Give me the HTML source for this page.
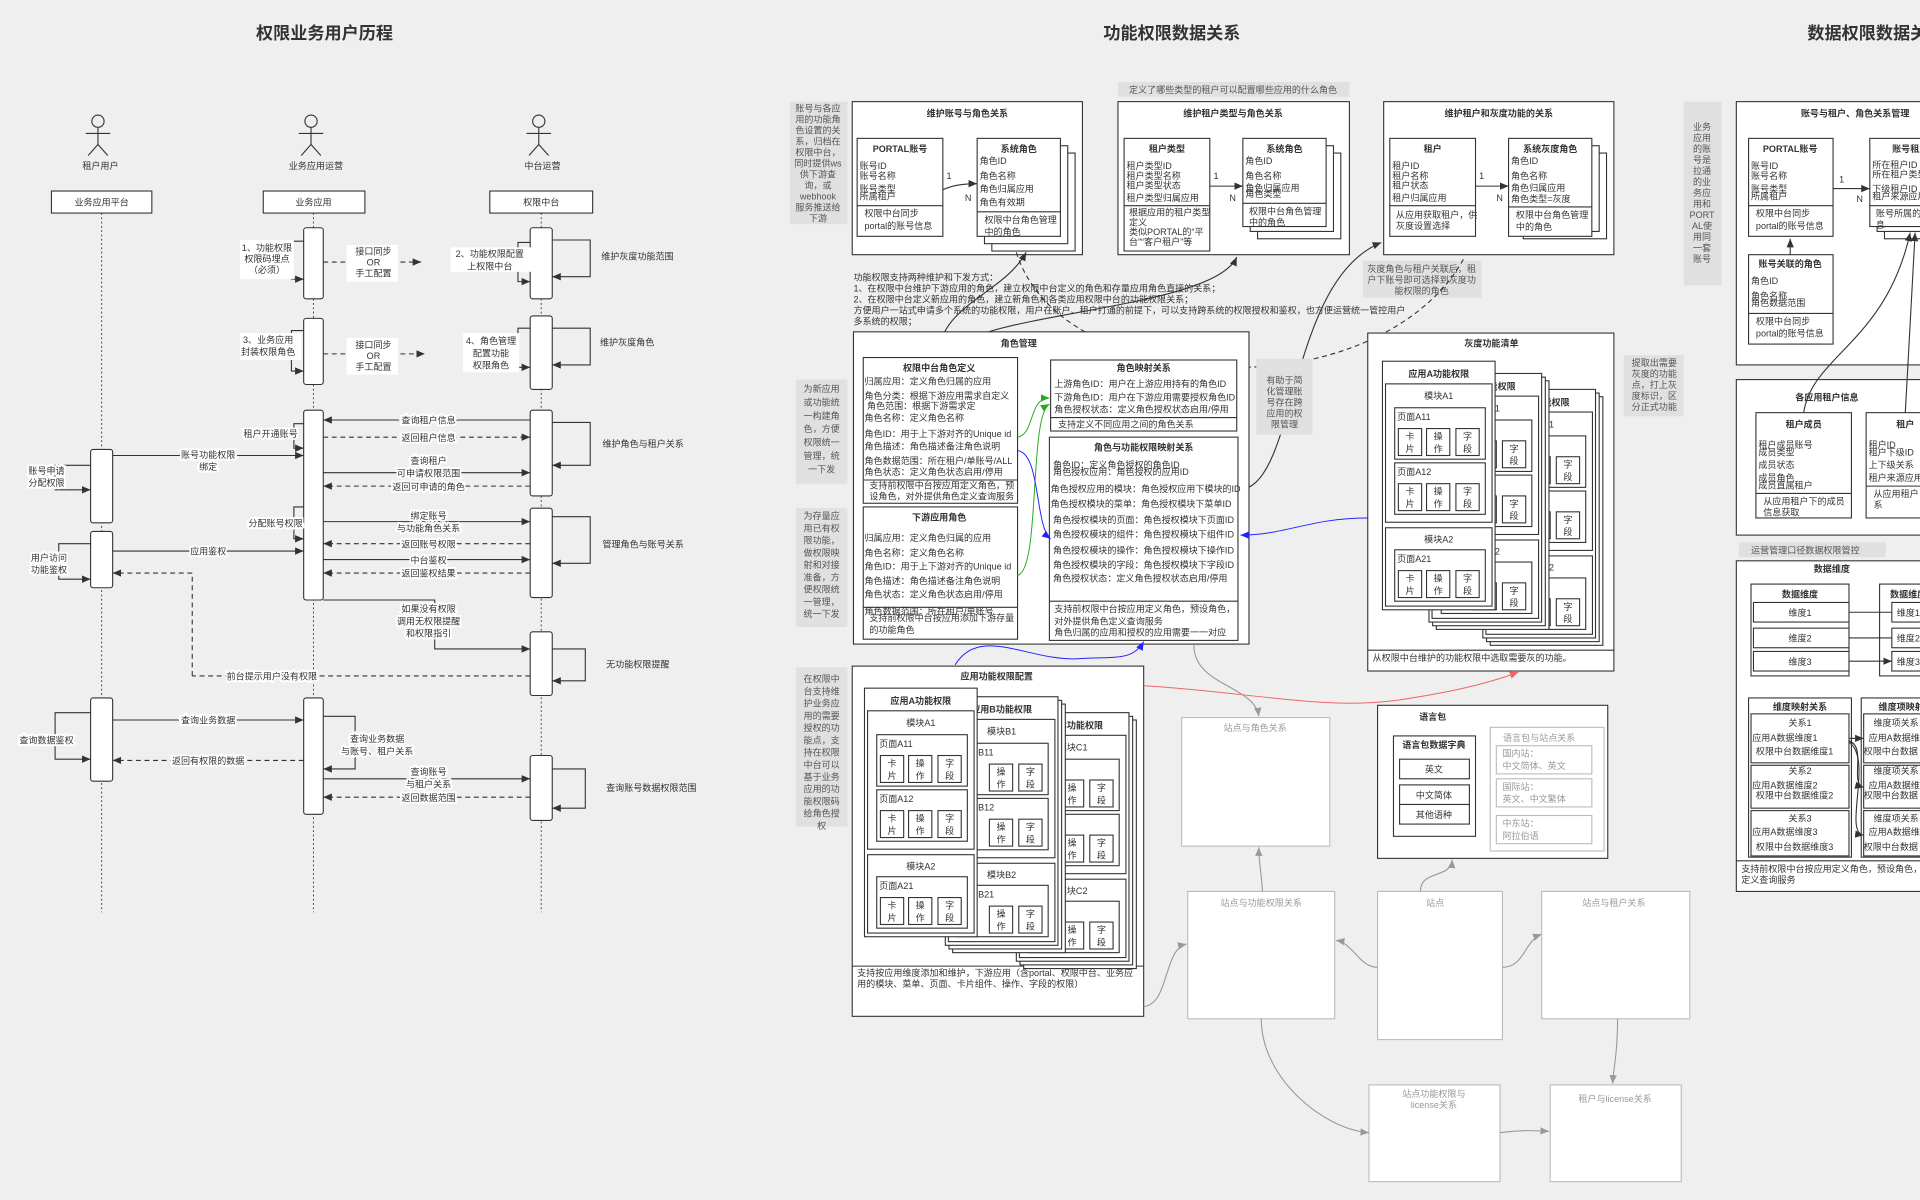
<!DOCTYPE html>
<html><head><meta charset="utf-8">
<style>
html,body{margin:0;padding:0;background:#efefef;}
svg{display:block;}
text{font-family:"Liberation Sans","Noto Sans CJK SC",sans-serif;font-size:7.4px;fill:#333;}
.b{font-weight:bold;}
.m{text-anchor:middle;}
.g text,.gt{fill:#555;}
.h1{font-size:14px;font-weight:bold;fill:#333;}
.lt{fill:#999;}
rect{fill:#fff;stroke:#333;stroke-width:0.9;}
.n{fill:#e0e0e0;stroke:none;}
.lb{fill:#fff;stroke:#bbb;}
.ll{fill:none;stroke:#333;stroke-width:0.9;}
.dl{fill:none;stroke:#333;stroke-width:0.9;stroke-dasharray:4 3;}
.dot{fill:none;stroke:#444;stroke-width:0.8;stroke-dasharray:1.5 2;}
.gc{fill:none;stroke:#999;stroke-width:0.9;}
.bg{fill:#efefef;stroke:none;}
</style></head><body>
<svg width="1920" height="1200" viewBox="0 0 1568 980" xmlns="http://www.w3.org/2000/svg">
<defs>
<marker id="a" markerWidth="8" markerHeight="8" refX="7" refY="4" orient="auto" markerUnits="userSpaceOnUse"><path d="M0,1 L7,4 L0,7 z" fill="#333"/></marker>
<marker id="ag" markerWidth="8" markerHeight="8" refX="7" refY="4" orient="auto" markerUnits="userSpaceOnUse"><path d="M0,1 L7,4 L0,7 z" fill="#999"/></marker>
<marker id="ab" markerWidth="8" markerHeight="8" refX="7" refY="4" orient="auto" markerUnits="userSpaceOnUse"><path d="M0,1 L7,4 L0,7 z" fill="#22f"/></marker>
<marker id="agr" markerWidth="8" markerHeight="8" refX="7" refY="4" orient="auto" markerUnits="userSpaceOnUse"><path d="M0,1 L7,4 L0,7 z" fill="#2a2"/></marker>
<marker id="ar" markerWidth="8" markerHeight="8" refX="7" refY="4" orient="auto" markerUnits="userSpaceOnUse"><path d="M0,1 L7,4 L0,7 z" fill="#e66"/></marker>
</defs>
<rect x="0" y="0" width="1568" height="980" class="bg"/>

<!-- ================= LEFT ================= -->
<text x="265" y="32" class="h1 m">权限业务用户历程</text>
<!-- actors -->
<g class="ll">
<circle cx="80" cy="99" r="5"/><path d="M80 104 V118 M70 109 H90 M72 127 L80 118 L88 127"/>
<circle cx="254" cy="99" r="5"/><path d="M254 104 V118 M244 109 H264 M246 127 L254 118 L262 127"/>
<circle cx="440" cy="99" r="5"/><path d="M440 104 V118 M430 109 H450 M432 127 L440 118 L448 127"/>
</g>
<text x="82" y="138" class="m">租户用户</text>
<text x="258" y="138" class="m">业务应用运营</text>
<text x="443" y="138" class="m">中台运营</text>
<rect x="42" y="156" width="82" height="18"/><text x="83" y="168" class="m">业务应用平台</text>
<rect x="215" y="156" width="83" height="18"/><text x="256" y="168" class="m">业务应用</text>
<rect x="400" y="156" width="84" height="18"/><text x="442" y="168" class="m">权限中台</text>
<path d="M83 174 V745 M256 174 V745 M442 174 V745" class="dot"/>
<!-- activations -->
<rect x="248" y="186" width="16" height="58" rx="2"/>
<rect x="248" y="260" width="16" height="54" rx="2"/>
<rect x="248" y="335" width="16" height="155" rx="2"/>
<rect x="248" y="570" width="16" height="95" rx="2"/>
<rect x="433" y="186" width="18" height="58" rx="2"/>
<rect x="433" y="258" width="18" height="60" rx="2"/>
<rect x="433" y="335" width="18" height="70" rx="2"/>
<rect x="433" y="415" width="18" height="73" rx="2"/>
<rect x="433" y="516" width="18" height="52" rx="2"/>
<rect x="433" y="617" width="18" height="53" rx="2"/>
<rect x="74" y="367" width="18" height="60" rx="2"/>
<rect x="74" y="434" width="18" height="46" rx="2"/>
<rect x="74" y="570" width="18" height="68" rx="2"/>
<!-- loops -->
<path d="M248 197 H238 V228 H248" class="ll" marker-end="url(#a)"/>
<path d="M433 198 H423 V230 H433" class="ll" marker-end="url(#a)"/>
<path d="M451 196 H482 V226 H451" class="ll" marker-end="url(#a)"/>
<path d="M248 270 H238 V303 H248" class="ll" marker-end="url(#a)"/>
<path d="M433 268 H423 V300 H433" class="ll" marker-end="url(#a)"/>
<path d="M451 268 H482 V298 H451" class="ll" marker-end="url(#a)"/>
<path d="M248 346 H240 V366 H248" class="ll" marker-end="url(#a)"/>
<path d="M74 380 H45 V400 H74" class="ll" marker-end="url(#a)"/>
<path d="M451 345 H482 V380 H451" class="ll" marker-end="url(#a)"/>
<path d="M248 414 H240 V440 H248" class="ll" marker-end="url(#a)"/>
<path d="M451 422 H482 V460 H451" class="ll" marker-end="url(#a)"/>
<path d="M74 444 H48 V473 H74" class="ll" marker-end="url(#a)"/>
<path d="M451 530 H478 V556 H451" class="ll" marker-end="url(#a)"/>
<path d="M74 582 H45 V620 H74" class="ll" marker-end="url(#a)"/>
<path d="M264 585 H290 V628 H264" class="ll" marker-end="url(#a)"/>
<path d="M451 628 H478 V660 H451" class="ll" marker-end="url(#a)"/>
<!-- messages -->
<path d="M264 214 H344" class="dl" marker-end="url(#a)"/>
<path d="M264 289 H347" class="dl" marker-end="url(#a)"/>
<path d="M433 343 H264" class="ll" marker-end="url(#a)"/>
<path d="M264 357 H433" class="dl" marker-end="url(#a)"/>
<path d="M92 372 H248" class="ll" marker-end="url(#a)"/>
<path d="M264 386 H433" class="ll" marker-end="url(#a)"/>
<path d="M433 397 H264" class="dl" marker-end="url(#a)"/>
<path d="M264 426 H433" class="ll" marker-end="url(#a)"/>
<path d="M433 444 H264" class="dl" marker-end="url(#a)"/>
<path d="M92 450 H248" class="ll" marker-end="url(#a)"/>
<path d="M264 457 H433" class="ll" marker-end="url(#a)"/>
<path d="M433 468 H264" class="dl" marker-end="url(#a)"/>
<path d="M157 552 V468 H92" class="dl" marker-end="url(#a)"/>
<path d="M433 552 H157" class="dl"/>
<path d="M264 490 H355 V530 H433" class="ll" marker-end="url(#a)"/>
<path d="M92 588 H248" class="ll" marker-end="url(#a)"/>
<path d="M248 621 H92" class="dl" marker-end="url(#a)"/>
<path d="M264 636 H433" class="ll" marker-end="url(#a)"/>
<path d="M433 651 H264" class="dl" marker-end="url(#a)"/>
<!-- labels -->
<g>
<rect x="196" y="196" width="44" height="32" style="fill:#fff;stroke:none"/>
<text x="218" y="205" class="m">1、功能权限</text><text x="218" y="214" class="m">权限码埋点</text><text x="218" y="223" class="m">（必须）</text>
<rect x="283" y="200" width="42" height="30" style="fill:#fff;stroke:none"/>
<text x="305" y="208" class="m">接口同步</text><text x="305" y="217" class="m">OR</text><text x="305" y="226" class="m">手工配置</text>
<rect x="368" y="202" width="66" height="20" style="fill:#fff;stroke:none"/>
<text x="400" y="210" class="m">2、功能权限配置</text><text x="400" y="220" class="m">上权限中台</text>
<text x="491" y="212">维护灰度功能范围</text>
<rect x="196" y="272" width="50" height="22" style="fill:#fff;stroke:none"/>
<text x="219" y="280" class="m">3、业务应用</text><text x="219" y="290" class="m">封装权限角色</text>
<rect x="283" y="276" width="42" height="30" style="fill:#fff;stroke:none"/>
<text x="305" y="284" class="m">接口同步</text><text x="305" y="293" class="m">OR</text><text x="305" y="302" class="m">手工配置</text>
<rect x="378" y="272" width="46" height="32" style="fill:#fff;stroke:none"/>
<text x="401" y="281" class="m">4、角色管理</text><text x="401" y="291" class="m">配置功能</text><text x="401" y="301" class="m">权限角色</text>
<text x="490" y="282">维护灰度角色</text>
<text x="350" y="346" class="m" style="paint-order:stroke;stroke:#fff;stroke-width:3px">查询租户信息</text>
<text x="350" y="360" class="m" style="paint-order:stroke;stroke:#fff;stroke-width:3px">返回租户信息</text>
<text x="221" y="357" class="m" style="paint-order:stroke;stroke:#fff;stroke-width:3px">租户开通账号</text>
<text x="170" y="374" class="m" style="paint-order:stroke;stroke:#fff;stroke-width:3px">账号功能权限</text><text x="170" y="384" class="m" style="paint-order:stroke;stroke:#fff;stroke-width:3px">绑定</text>
<text x="38" y="387" class="m" style="paint-order:stroke;stroke:#fff;stroke-width:3px">账号申请</text><text x="38" y="397" class="m" style="paint-order:stroke;stroke:#fff;stroke-width:3px">分配权限</text>
<text x="350" y="379" class="m" style="paint-order:stroke;stroke:#fff;stroke-width:3px">查询租户</text><text x="350" y="389" class="m" style="paint-order:stroke;stroke:#fff;stroke-width:3px">可申请权限范围</text>
<text x="350" y="400" class="m" style="paint-order:stroke;stroke:#fff;stroke-width:3px">返回可申请的角色</text>
<text x="492" y="365">维护角色与租户关系</text>
<text x="225" y="430" class="m" style="paint-order:stroke;stroke:#fff;stroke-width:3px">分配账号权限</text>
<text x="350" y="424" class="m" style="paint-order:stroke;stroke:#fff;stroke-width:3px">绑定账号</text><text x="350" y="434" class="m" style="paint-order:stroke;stroke:#fff;stroke-width:3px">与功能角色关系</text>
<text x="350" y="447" class="m" style="paint-order:stroke;stroke:#fff;stroke-width:3px">返回账号权限</text>
<text x="350" y="460" class="m" style="paint-order:stroke;stroke:#fff;stroke-width:3px">中台鉴权</text>
<text x="350" y="471" class="m" style="paint-order:stroke;stroke:#fff;stroke-width:3px">返回鉴权结果</text>
<text x="170" y="453" class="m" style="paint-order:stroke;stroke:#fff;stroke-width:3px">应用鉴权</text>
<text x="492" y="447">管理角色与账号关系</text>
<text x="40" y="458" class="m" style="paint-order:stroke;stroke:#fff;stroke-width:3px">用户访问</text><text x="40" y="468" class="m" style="paint-order:stroke;stroke:#fff;stroke-width:3px">功能鉴权</text>
<text x="350" y="500" class="m" style="paint-order:stroke;stroke:#fff;stroke-width:3px">如果没有权限</text><text x="350" y="510" class="m" style="paint-order:stroke;stroke:#fff;stroke-width:3px">调用无权限提醒</text><text x="350" y="520" class="m" style="paint-order:stroke;stroke:#fff;stroke-width:3px">和权限指引</text>
<text x="495" y="545">无功能权限提醒</text>
<text x="222" y="555" class="m" style="paint-order:stroke;stroke:#fff;stroke-width:3px">前台提示用户没有权限</text>
<text x="170" y="591" class="m" style="paint-order:stroke;stroke:#fff;stroke-width:3px">查询业务数据</text>
<text x="38" y="607" class="m" style="paint-order:stroke;stroke:#fff;stroke-width:3px">查询数据鉴权</text>
<text x="308" y="606" class="m" style="paint-order:stroke;stroke:#fff;stroke-width:3px">查询业务数据</text><text x="308" y="616" class="m" style="paint-order:stroke;stroke:#fff;stroke-width:3px">与账号、租户关系</text>
<text x="170" y="624" class="m" style="paint-order:stroke;stroke:#fff;stroke-width:3px">返回有权限的数据</text>
<text x="350" y="633" class="m" style="paint-order:stroke;stroke:#fff;stroke-width:3px">查询账号</text><text x="350" y="643" class="m" style="paint-order:stroke;stroke:#fff;stroke-width:3px">与租户关系</text>
<text x="350" y="654" class="m" style="paint-order:stroke;stroke:#fff;stroke-width:3px">返回数据范围</text>
<text x="495" y="646">查询账号数据权限范围</text>
</g>

<!-- ================= MIDDLE ================= -->
<text x="957" y="32" class="h1 m">功能权限数据关系</text>

<!-- grey notes -->
<rect x="645" y="83" width="47" height="100" class="n"/>
<g class="g"><text x="668" y="91" class="m">账号与各应</text><text x="668" y="100" class="m">用的功能角</text><text x="668" y="109" class="m">色设置的关</text><text x="668" y="118" class="m">系，归档在</text><text x="668" y="127" class="m">权限中台，</text><text x="668" y="136" class="m">同时提供ws</text><text x="668" y="145" class="m">供下游查</text><text x="668" y="154" class="m">询，或</text><text x="668" y="163" class="m">webhook</text><text x="668" y="172" class="m">服务推送给</text><text x="668" y="181" class="m">下游</text></g>
<rect x="913" y="67" width="189" height="12" class="n"/>
<text x="1007" y="76" class="m gt">定义了哪些类型的租户可以配置哪些应用的什么角色</text>

<!-- box 1 -->
<rect x="696" y="83" width="188" height="125"/>
<text x="790" y="95" class="b m">维护账号与角色关系</text>
<rect x="700" y="113" width="70" height="80"/>
<text x="735" y="124" class="b m">PORTAL账号</text>
<text x="702" y="138">账号ID</text><text x="702" y="146">账号名称</text><text x="702" y="157">账号类型</text><text x="702" y="163">所属租户</text>
<path d="M700 168 H770" class="ll"/>
<text x="706" y="177">权限中台同步</text><text x="706" y="187">portal的账号信息</text>
<rect x="810" y="125" width="68" height="80"/><rect x="804" y="119" width="68" height="80"/>
<rect x="798" y="113" width="68" height="80"/>
<text x="832" y="124" class="b m">系统角色</text>
<text x="800" y="134">角色ID</text><text x="800" y="146">角色名称</text><text x="800" y="157">角色归属应用</text><text x="800" y="168">角色有效期</text>
<path d="M798 173 H866" class="ll"/>
<text x="804" y="182">权限中台角色管理</text><text x="804" y="192">中的角色</text>
<path d="M770 155 Q780 150 798 150" class="ll" marker-end="url(#a)"/>
<text x="773" y="146">1</text><text x="788" y="164">N</text>

<!-- box 2 -->
<rect x="913" y="83" width="189" height="125"/>
<text x="1007" y="95" class="b m">维护租户类型与角色关系</text>
<rect x="918" y="113" width="70" height="92"/>
<text x="953" y="124" class="b m">租户类型</text>
<text x="920" y="138">租户类型ID</text><text x="920" y="146">租户类型名称</text><text x="920" y="154">租户类型状态</text><text x="920" y="164">租户类型归属应用</text>
<path d="M918 168 H988" class="ll"/>
<text x="922" y="176">根据应用的租户类型</text><text x="922" y="184">定义</text><text x="922" y="192">类似PORTAL的“平</text><text x="922" y="200">台”“客户租户”等</text>
<rect x="1027" y="125" width="68" height="70"/><rect x="1021" y="119" width="68" height="70"/>
<rect x="1015" y="113" width="68" height="72"/>
<text x="1049" y="124" class="b m">系统角色</text>
<text x="1017" y="134">角色ID</text><text x="1017" y="146">角色名称</text><text x="1017" y="156">角色归属应用</text><text x="1017" y="161">角色类型</text>
<path d="M1015 166 H1083" class="ll"/>
<text x="1020" y="175">权限中台角色管理</text><text x="1020" y="184">中的角色</text>
<path d="M988 152 H1015" class="ll" marker-end="url(#a)"/>
<text x="991" y="146">1</text><text x="1004" y="164">N</text>

<!-- box 3 -->
<rect x="1130" y="83" width="188" height="125"/>
<text x="1224" y="95" class="b m">维护租户和灰度功能的关系</text>
<rect x="1135" y="113" width="70" height="80"/>
<text x="1170" y="124" class="b m">租户</text>
<text x="1137" y="138">租户ID</text><text x="1137" y="146">租户名称</text><text x="1137" y="154">租户状态</text><text x="1137" y="164">租户归属应用</text>
<path d="M1135 168 H1205" class="ll"/>
<text x="1140" y="178">从应用获取租户，供</text><text x="1140" y="187">灰度设置选择</text>
<rect x="1244" y="125" width="68" height="70"/><rect x="1238" y="119" width="68" height="70"/>
<rect x="1232" y="113" width="68" height="80"/>
<text x="1266" y="124" class="b m">系统灰度角色</text>
<text x="1234" y="134">角色ID</text><text x="1234" y="146">角色名称</text><text x="1234" y="156">角色归属应用</text><text x="1234" y="165">角色类型=灰度</text>
<path d="M1232 169 H1300" class="ll"/>
<text x="1238" y="178">权限中台角色管理</text><text x="1238" y="188">中的角色</text>
<path d="M1205 152 H1232" class="ll" marker-end="url(#a)"/>
<text x="1208" y="146">1</text><text x="1222" y="164">N</text>

<!-- paragraph -->
<g>
<text x="697" y="229">功能权限支持两种维护和下发方式：</text>
<text x="697" y="238">1、在权限中台维护下游应用的角色，建立权限中台定义的角色和存量应用角色直接的关系；</text>
<text x="697" y="247">2、在权限中台定义新应用的角色，建立新角色和各类应用权限中台的功能权限关系；</text>
<text x="697" y="256">方便用户一站式申请多个系统的功能权限，用户在账户、租户打通的前提下，可以支持跨系统的权限授权和鉴权，也方便运营统一管控用户</text>
<text x="697" y="265">多系统的权限；</text>
</g>
<rect x="1113" y="213" width="97" height="30" class="n"/>
<g class="g"><text x="1161" y="222" class="m">灰度角色与租户关联后，租</text><text x="1161" y="231" class="m">户下账号即可选择到灰度功</text><text x="1161" y="240" class="m">能权限的角色</text></g>

<!-- connectors middle -->
<path d="M767 292 C765 250, 820 240, 838 206" class="ll" marker-end="url(#a)"/>
<path d="M775 292 C780 255, 990 255, 1010 210" class="ll" marker-end="url(#a)"/>
<path d="M830 206 C850 270, 930 300, 1010 300 C1100 300, 1170 260, 1196 210" class="dl"/>
<path d="M1011 400 C1060 400, 1050 230, 1128 198" class="ll" marker-end="url(#a)"/>

<!-- 角色管理 -->
<rect x="650" y="310" width="42" height="85" class="n"/>
<g class="g"><text x="671" y="320" class="m">为新应用</text><text x="671" y="331" class="m">或功能统</text><text x="671" y="342" class="m">一构建角</text><text x="671" y="353" class="m">色，方便</text><text x="671" y="364" class="m">权限统一</text><text x="671" y="375" class="m">管理，统</text><text x="671" y="386" class="m">一下发</text></g>
<rect x="650" y="415" width="42" height="97" class="n"/>
<g class="g"><text x="671" y="424" class="m">为存量应</text><text x="671" y="434" class="m">用已有权</text><text x="671" y="444" class="m">限功能，</text><text x="671" y="454" class="m">做权限映</text><text x="671" y="464" class="m">射和对接</text><text x="671" y="474" class="m">准备，方</text><text x="671" y="484" class="m">便权限统</text><text x="671" y="494" class="m">一管理，</text><text x="671" y="504" class="m">统一下发</text></g>
<rect x="697" y="271" width="323" height="255"/>
<text x="832" y="283" class="b m">角色管理</text>
<rect x="705" y="292" width="126" height="119"/>
<text x="767" y="303" class="b m">权限中台角色定义</text>
<text x="706" y="314">归属应用：定义角色归属的应用</text>
<text x="706" y="326">角色分类：根据下游应用需求自定义</text>
<text x="708" y="334">角色范围：根据下游需求定</text>
<text x="706" y="344">角色名称：定义角色名称</text>
<text x="706" y="357">角色ID：用于上下游对齐的Unique id</text>
<text x="706" y="367">角色描述：角色描述备注角色说明</text>
<text x="706" y="379">角色数据范围：所在租户/单账号/ALL</text>
<text x="706" y="388">角色状态：定义角色状态启用/停用</text>
<path d="M705 392 H831" class="ll"/>
<text x="710" y="399">支持前权限中台按应用定义角色，预</text><text x="710" y="408">设角色，对外提供角色定义查询服务</text>
<rect x="705" y="414" width="126" height="108"/>
<text x="767" y="425" class="b m">下游应用角色</text>
<text x="706" y="442">归属应用：定义角色归属的应用</text>
<text x="706" y="454">角色名称：定义角色名称</text>
<text x="706" y="465">角色ID：用于上下游对齐的Unique id</text>
<text x="706" y="477">角色描述：角色描述备注角色说明</text>
<text x="706" y="488">角色状态：定义角色状态启用/停用</text>
<text x="706" y="502">角色数据范围：所在租户/单账号</text>
<path d="M705 496 H831" class="ll"/>
<text x="710" y="507">支持前权限中台按应用添加下游存量</text><text x="710" y="517">的功能角色</text>
<rect x="858" y="294" width="152" height="58"/>
<text x="934" y="303" class="b m">角色映射关系</text>
<text x="861" y="316">上游角色ID：用户在上游应用持有的角色ID</text>
<text x="861" y="327">下游角色ID：用户在下游应用需要授权角色ID</text>
<text x="861" y="337">角色授权状态：定义角色授权状态启用/停用</text>
<path d="M858 341 H1010" class="ll"/>
<text x="864" y="349">支持定义不同应用之间的角色关系</text>
<rect x="857" y="357" width="154" height="166"/>
<text x="934" y="368" class="b m">角色与功能权限映射关系</text>
<text x="860" y="382">角色ID：定义角色授权的角色ID</text>
<text x="860" y="388">角色授权应用：角色授权的应用ID</text>
<text x="858" y="402">角色授权应用的模块：角色授权应用下模块的ID</text>
<text x="858" y="414">角色授权模块的菜单：角色授权模块下菜单ID</text>
<text x="860" y="427">角色授权模块的页面：角色授权模块下页面ID</text>
<text x="860" y="439">角色授权模块的组件：角色授权模块下组件ID</text>
<text x="860" y="452">角色授权模块的操作：角色授权模块下操作ID</text>
<text x="860" y="464">角色授权模块的字段：角色授权模块下字段ID</text>
<text x="860" y="475">角色授权状态：定义角色授权状态启用/停用</text>
<path d="M857 491 H1011" class="ll"/>
<text x="861" y="500">支持前权限中台按应用定义角色，预设角色，</text>
<text x="861" y="510">对外提供角色定义查询服务</text>
<text x="861" y="519">角色归属的应用和授权的应用需要一一对应</text>
<path d="M831 357 C845 355, 840 325, 857 325" fill="none" stroke="#2a2" stroke-width="0.8" marker-end="url(#agr)"/>
<path d="M831 470 C850 465, 840 340, 857 330" fill="none" stroke="#2a2" stroke-width="0.8" marker-end="url(#agr)"/>
<path d="M831 368 C850 370, 845 430, 858 440" fill="none" stroke="#22f" stroke-width="0.8" marker-end="url(#ab)"/>
<rect x="1026" y="293" width="46" height="62" class="n"/>
<g class="g"><text x="1049" y="313" class="m">有助于简</text><text x="1049" y="322" class="m">化管理账</text><text x="1049" y="331" class="m">号存在跨</text><text x="1049" y="340" class="m">应用的权</text><text x="1049" y="349" class="m">限管理</text></g>

<!-- 灰度功能清单 -->
<rect x="1117" y="272" width="201" height="276"/>
<text x="1218" y="283" class="b m">灰度功能清单</text>
<path d="M1117 531 H1318" class="ll"/>
<text x="1121" y="540">从权限中台维护的功能权限中选取需要灰的功能。</text>
<rect x="1326" y="290" width="49" height="50" class="n"/>
<g class="g"><text x="1351" y="299" class="m">提取出需要</text><text x="1351" y="308" class="m">灰度的功能</text><text x="1351" y="317" class="m">点，打上灰</text><text x="1351" y="326" class="m">度标识，区</text><text x="1351" y="335" class="m">分正式功能</text></g>

<!-- panels in 灰度功能清单: C, B, A -->
<g transform="translate(1211,318)">
<rect x="6" y="6" width="92" height="203"/><rect x="3" y="3" width="92" height="203"/>
<rect x="0" y="0" width="92" height="203"/><text x="46" y="13" class="b m">应用C功能权限</text>
<rect x="2.5" y="18.5" width="87" height="113"/><text x="46" y="31" class="m">模块C1</text>
<rect x="10" y="38" width="74" height="42"/><text x="12" y="48">页面C11</text>
<rect x="36" y="55" width="19" height="22"/><text x="45.5" y="64" class="m">操</text><text x="45.5" y="74" class="m">作</text><rect x="60" y="55" width="19" height="22"/><text x="69.5" y="64" class="m">字</text><text x="69.5" y="74" class="m">段</text>
<rect x="10" y="83" width="74" height="42"/><text x="12" y="93">页面C12</text>
<rect x="36" y="100" width="19" height="22"/><text x="45.5" y="109" class="m">操</text><text x="45.5" y="119" class="m">作</text><rect x="60" y="100" width="19" height="22"/><text x="69.5" y="109" class="m">字</text><text x="69.5" y="119" class="m">段</text>
<rect x="2.5" y="136" width="87" height="64"/><text x="46" y="148" class="m">模块C2</text>
<rect x="10" y="154" width="74" height="42"/><text x="12" y="164">页面C21</text>
<rect x="36" y="171" width="19" height="22"/><text x="45.5" y="180" class="m">操</text><text x="45.5" y="190" class="m">作</text><rect x="60" y="171" width="19" height="22"/><text x="69.5" y="180" class="m">字</text><text x="69.5" y="190" class="m">段</text>
</g>
<g transform="translate(1167,305)">
<rect x="6" y="6" width="92" height="203"/><rect x="3" y="3" width="92" height="203"/>
<rect x="0" y="0" width="92" height="203"/><text x="46" y="13" class="b m">应用B功能权限</text>
<rect x="2.5" y="18.5" width="87" height="113"/><text x="46" y="31" class="m">模块B1</text>
<rect x="10" y="38" width="74" height="42"/><text x="12" y="48">页面B11</text>
<rect x="36" y="55" width="19" height="22"/><text x="45.5" y="64" class="m">操</text><text x="45.5" y="74" class="m">作</text><rect x="60" y="55" width="19" height="22"/><text x="69.5" y="64" class="m">字</text><text x="69.5" y="74" class="m">段</text>
<rect x="10" y="83" width="74" height="42"/><text x="12" y="93">页面B12</text>
<rect x="36" y="100" width="19" height="22"/><text x="45.5" y="109" class="m">操</text><text x="45.5" y="119" class="m">作</text><rect x="60" y="100" width="19" height="22"/><text x="69.5" y="109" class="m">字</text><text x="69.5" y="119" class="m">段</text>
<rect x="2.5" y="136" width="87" height="64"/><text x="46" y="148" class="m">模块B2</text>
<rect x="10" y="154" width="74" height="42"/><text x="12" y="164">页面B21</text>
<rect x="36" y="171" width="19" height="22"/><text x="45.5" y="180" class="m">操</text><text x="45.5" y="190" class="m">作</text><rect x="60" y="171" width="19" height="22"/><text x="69.5" y="180" class="m">字</text><text x="69.5" y="190" class="m">段</text>
</g>
<g transform="translate(1129,295)">
<rect x="0" y="0" width="92" height="203"/><text x="46" y="13" class="b m">应用A功能权限</text>
<rect x="2.5" y="18.5" width="87" height="113"/><text x="46" y="31" class="m">模块A1</text>
<rect x="10" y="38" width="74" height="42"/><text x="12" y="48">页面A11</text>
<rect x="13" y="55" width="19" height="22"/><text x="22.5" y="64" class="m">卡</text><text x="22.5" y="74" class="m">片</text><rect x="36" y="55" width="19" height="22"/><text x="45.5" y="64" class="m">操</text><text x="45.5" y="74" class="m">作</text><rect x="60" y="55" width="19" height="22"/><text x="69.5" y="64" class="m">字</text><text x="69.5" y="74" class="m">段</text>
<rect x="10" y="83" width="74" height="42"/><text x="12" y="93">页面A12</text>
<rect x="13" y="100" width="19" height="22"/><text x="22.5" y="109" class="m">卡</text><text x="22.5" y="119" class="m">片</text><rect x="36" y="100" width="19" height="22"/><text x="45.5" y="109" class="m">操</text><text x="45.5" y="119" class="m">作</text><rect x="60" y="100" width="19" height="22"/><text x="69.5" y="109" class="m">字</text><text x="69.5" y="119" class="m">段</text>
<rect x="2.5" y="136" width="87" height="64"/><text x="46" y="148" class="m">模块A2</text>
<rect x="10" y="154" width="74" height="42"/><text x="12" y="164">页面A21</text>
<rect x="13" y="171" width="19" height="22"/><text x="22.5" y="180" class="m">卡</text><text x="22.5" y="190" class="m">片</text><rect x="36" y="171" width="19" height="22"/><text x="45.5" y="180" class="m">操</text><text x="45.5" y="190" class="m">作</text><rect x="60" y="171" width="19" height="22"/><text x="69.5" y="180" class="m">字</text><text x="69.5" y="190" class="m">段</text>
</g>
<path d="M1117 423 C1070 423, 1050 437, 1013 437" fill="none" stroke="#22f" stroke-width="0.8" marker-end="url(#ab)"/>

<!-- 应用功能权限配置 -->
<rect x="650" y="545" width="42" height="130" class="n"/>
<g class="g"><text x="671" y="557" class="m">在权限中</text><text x="671" y="567" class="m">台支持维</text><text x="671" y="577" class="m">护业务应</text><text x="671" y="587" class="m">用的需要</text><text x="671" y="597" class="m">授权的功</text><text x="671" y="607" class="m">能点，支</text><text x="671" y="617" class="m">持在权限</text><text x="671" y="627" class="m">中台可以</text><text x="671" y="637" class="m">基于业务</text><text x="671" y="647" class="m">应用的功</text><text x="671" y="657" class="m">能权限码</text><text x="671" y="667" class="m">给角色授</text><text x="671" y="677" class="m">权</text></g>
<rect x="696" y="544" width="238" height="286"/>
<text x="814" y="555" class="b m">应用功能权限配置</text>
<path d="M696 789 H934" class="ll"/>
<text x="700" y="797">支持按应用维度添加和维护，下游应用（含portal、权限中台、业务应</text>
<text x="700" y="806">用的模块、菜单、页面、卡片组件、操作、字段的权限）</text>
<g transform="translate(830,582)">
<rect x="6" y="6" width="92" height="203"/><rect x="3" y="3" width="92" height="203"/>
<rect x="0" y="0" width="92" height="203"/><text x="46" y="13" class="b m">应用C功能权限</text>
<rect x="2.5" y="18.5" width="87" height="113"/><text x="46" y="31" class="m">模块C1</text>
<rect x="10" y="38" width="74" height="42"/><text x="12" y="48">页面C11</text>
<rect x="36" y="55" width="19" height="22"/><text x="45.5" y="64" class="m">操</text><text x="45.5" y="74" class="m">作</text><rect x="60" y="55" width="19" height="22"/><text x="69.5" y="64" class="m">字</text><text x="69.5" y="74" class="m">段</text>
<rect x="10" y="83" width="74" height="42"/><text x="12" y="93">页面C12</text>
<rect x="36" y="100" width="19" height="22"/><text x="45.5" y="109" class="m">操</text><text x="45.5" y="119" class="m">作</text><rect x="60" y="100" width="19" height="22"/><text x="69.5" y="109" class="m">字</text><text x="69.5" y="119" class="m">段</text>
<rect x="2.5" y="136" width="87" height="64"/><text x="46" y="148" class="m">模块C2</text>
<rect x="10" y="154" width="74" height="42"/><text x="12" y="164">页面C21</text>
<rect x="36" y="171" width="19" height="22"/><text x="45.5" y="180" class="m">操</text><text x="45.5" y="190" class="m">作</text><rect x="60" y="171" width="19" height="22"/><text x="69.5" y="180" class="m">字</text><text x="69.5" y="190" class="m">段</text>
</g>
<g transform="translate(772,569)">
<rect x="6" y="6" width="92" height="203"/><rect x="3" y="3" width="92" height="203"/>
<rect x="0" y="0" width="92" height="203"/><text x="46" y="13" class="b m">应用B功能权限</text>
<rect x="2.5" y="18.5" width="87" height="113"/><text x="46" y="31" class="m">模块B1</text>
<rect x="10" y="38" width="74" height="42"/><text x="12" y="48">页面B11</text>
<rect x="36" y="55" width="19" height="22"/><text x="45.5" y="64" class="m">操</text><text x="45.5" y="74" class="m">作</text><rect x="60" y="55" width="19" height="22"/><text x="69.5" y="64" class="m">字</text><text x="69.5" y="74" class="m">段</text>
<rect x="10" y="83" width="74" height="42"/><text x="12" y="93">页面B12</text>
<rect x="36" y="100" width="19" height="22"/><text x="45.5" y="109" class="m">操</text><text x="45.5" y="119" class="m">作</text><rect x="60" y="100" width="19" height="22"/><text x="69.5" y="109" class="m">字</text><text x="69.5" y="119" class="m">段</text>
<rect x="2.5" y="136" width="87" height="64"/><text x="46" y="148" class="m">模块B2</text>
<rect x="10" y="154" width="74" height="42"/><text x="12" y="164">页面B21</text>
<rect x="36" y="171" width="19" height="22"/><text x="45.5" y="180" class="m">操</text><text x="45.5" y="190" class="m">作</text><rect x="60" y="171" width="19" height="22"/><text x="69.5" y="180" class="m">字</text><text x="69.5" y="190" class="m">段</text>
</g>
<g transform="translate(706,562)">
<rect x="0" y="0" width="92" height="203"/><text x="46" y="13" class="b m">应用A功能权限</text>
<rect x="2.5" y="18.5" width="87" height="113"/><text x="46" y="31" class="m">模块A1</text>
<rect x="10" y="38" width="74" height="42"/><text x="12" y="48">页面A11</text>
<rect x="13" y="55" width="19" height="22"/><text x="22.5" y="64" class="m">卡</text><text x="22.5" y="74" class="m">片</text><rect x="36" y="55" width="19" height="22"/><text x="45.5" y="64" class="m">操</text><text x="45.5" y="74" class="m">作</text><rect x="60" y="55" width="19" height="22"/><text x="69.5" y="64" class="m">字</text><text x="69.5" y="74" class="m">段</text>
<rect x="10" y="83" width="74" height="42"/><text x="12" y="93">页面A12</text>
<rect x="13" y="100" width="19" height="22"/><text x="22.5" y="109" class="m">卡</text><text x="22.5" y="119" class="m">片</text><rect x="36" y="100" width="19" height="22"/><text x="45.5" y="109" class="m">操</text><text x="45.5" y="119" class="m">作</text><rect x="60" y="100" width="19" height="22"/><text x="69.5" y="109" class="m">字</text><text x="69.5" y="119" class="m">段</text>
<rect x="2.5" y="136" width="87" height="64"/><text x="46" y="148" class="m">模块A2</text>
<rect x="10" y="154" width="74" height="42"/><text x="12" y="164">页面A21</text>
<rect x="13" y="171" width="19" height="22"/><text x="22.5" y="180" class="m">卡</text><text x="22.5" y="190" class="m">片</text><rect x="36" y="171" width="19" height="22"/><text x="45.5" y="180" class="m">操</text><text x="45.5" y="190" class="m">作</text><rect x="60" y="171" width="19" height="22"/><text x="69.5" y="180" class="m">字</text><text x="69.5" y="190" class="m">段</text>
</g>
<path d="M780 543 C800 510, 840 540, 880 538 C910 536, 925 540, 934 524" fill="none" stroke="#22f" stroke-width="0.8" marker-end="url(#ab)"/>
<path d="M934 560 C1020 565, 1080 580, 1140 572 C1180 566, 1210 560, 1240 549" fill="none" stroke="#e66" stroke-width="0.8" marker-end="url(#ar)"/>

<!-- bottom light boxes -->
<rect x="965" y="586" width="121" height="105" class="lb"/>
<text x="1025" y="597" class="m lt">站点与角色关系</text>
<rect x="1125" y="576" width="188" height="125"/>
<text x="1170" y="588" class="b m">语言包</text>
<rect x="1138" y="601" width="67" height="82"/>
<text x="1171" y="611" class="b m">语言包数据字典</text>
<rect x="1143" y="620" width="57" height="16"/><text x="1171" y="631" class="m">英文</text>
<rect x="1143" y="641" width="57" height="16"/><text x="1171" y="652" class="m">中文简体</text>
<rect x="1143" y="657" width="57" height="16"/><text x="1171" y="668" class="m">其他语种</text>
<rect x="1217" y="594" width="93" height="101" class="lb"/>
<text x="1257" y="605" class="m lt">语言包与站点关系</text>
<rect x="1222" y="609" width="78" height="23" class="lb"/><text x="1227" y="618" class="lt">国内站：</text><text x="1227" y="628" class="lt">中文简体、英文</text>
<rect x="1222" y="636" width="78" height="23" class="lb"/><text x="1227" y="645" class="lt">国际站：</text><text x="1227" y="655" class="lt">英文、中文繁体</text>
<rect x="1222" y="666" width="78" height="23" class="lb"/><text x="1227" y="675" class="lt">中东站：</text><text x="1227" y="685" class="lt">阿拉伯语</text>
<rect x="970" y="728" width="120" height="104" class="lb"/>
<text x="1030" y="740" class="m lt">站点与功能权限关系</text>
<rect x="1125" y="728" width="102" height="121" class="lb"/>
<text x="1172" y="740" class="m lt">站点</text>
<rect x="1259" y="728" width="121" height="104" class="lb"/>
<text x="1318" y="740" class="m lt">站点与租户关系</text>
<rect x="1118" y="886" width="107" height="79" class="lb"/>
<text x="1171" y="896" class="m lt">站点功能权限与</text><text x="1171" y="905" class="m lt">license关系</text>
<rect x="1266" y="886" width="107" height="79" class="lb"/>
<text x="1319" y="900" class="m lt">租户与license关系</text>
<path d="M975 527 C975 560, 1025 560, 1028 585" class="gc" marker-end="url(#ag)"/>
<path d="M1031 728 C1030 710, 1028 705, 1028 692" class="gc" marker-end="url(#ag)"/>
<path d="M1125 790 C1110 790, 1105 770, 1091 768" class="gc" marker-end="url(#ag)"/>
<path d="M1227 790 C1245 790, 1245 768, 1259 763" class="gc" marker-end="url(#ag)"/>
<path d="M1160 728 C1160 710, 1185 718, 1186 702" class="gc" marker-end="url(#ag)"/>
<path d="M934 822 C955 820, 950 775, 969 771" class="gc" marker-end="url(#ag)"/>
<path d="M1030 832 C1030 880, 1080 922, 1118 925" class="gc" marker-end="url(#ag)"/>
<path d="M1225 925 C1240 923, 1250 923, 1265 924" class="gc" marker-end="url(#ag)"/>
<path d="M1321 832 C1321 860, 1318 870, 1317 885" class="gc" marker-end="url(#ag)"/>

<!-- ================= RIGHT ================= -->
<text x="1476" y="32" class="h1">数据权限数据关系</text>
<rect x="1375" y="83" width="31" height="150" class="n"/>
<g class="g"><text x="1390" y="106" class="m">业务</text><text x="1390" y="115" class="m">应用</text><text x="1390" y="124" class="m">的账</text><text x="1390" y="133" class="m">号是</text><text x="1390" y="142" class="m">拉通</text><text x="1390" y="151" class="m">的业</text><text x="1390" y="160" class="m">务应</text><text x="1390" y="169" class="m">用和</text><text x="1390" y="178" class="m">PORT</text><text x="1390" y="187" class="m">AL使</text><text x="1390" y="196" class="m">用同</text><text x="1390" y="205" class="m">一套</text><text x="1390" y="214" class="m">账号</text></g>
<rect x="1418" y="83" width="170" height="215"/>
<text x="1515" y="95" class="b m">账号与租户、角色关系管理</text>
<rect x="1428" y="113" width="69" height="80"/>
<text x="1462" y="124" class="b m">PORTAL账号</text>
<text x="1430" y="138">账号ID</text><text x="1430" y="146">账号名称</text><text x="1430" y="157">账号类型</text><text x="1430" y="163">所属租户</text>
<path d="M1428 168 H1497" class="ll"/>
<text x="1434" y="177">权限中台同步</text><text x="1434" y="187">portal的账号信息</text>
<rect x="1428" y="208" width="69" height="73"/>
<text x="1462" y="218" class="b m">账号关联的角色</text>
<text x="1430" y="232">角色ID</text><text x="1430" y="244">角色名称</text><text x="1430" y="250">角色数据范围</text>
<path d="M1428 256 H1497" class="ll"/>
<text x="1434" y="265">权限中台同步</text><text x="1434" y="275">portal的账号信息</text>
<path d="M1462 208 V195" class="ll" marker-end="url(#a)"/>
<rect x="1539" y="125" width="60" height="70"/><rect x="1533" y="119" width="60" height="70"/>
<rect x="1527" y="113" width="60" height="72"/>
<text x="1560" y="124" class="b m">账号租户</text>
<text x="1529" y="137">所在租户ID</text><text x="1529" y="145">所在租户类型</text><text x="1529" y="157">下级租户ID</text><text x="1529" y="163">租户来源应用</text>
<path d="M1527 168 H1587" class="ll"/>
<text x="1532" y="177">账号所属的租户信</text><text x="1532" y="186">息</text>
<path d="M1497 154 H1527" class="ll" marker-end="url(#a)"/>
<text x="1502" y="149">1</text><text x="1516" y="165">N</text>
<rect x="1418" y="310" width="170" height="127"/>
<text x="1492" y="327" class="b m">各应用租户信息</text>
<rect x="1434" y="337" width="78" height="86"/>
<text x="1473" y="349" class="b m">租户成员</text>
<text x="1436" y="366">租户成员账号</text><text x="1436" y="372">成员类型</text><text x="1436" y="382">成员状态</text><text x="1436" y="393">成员角色</text><text x="1436" y="399">成员直属租户</text>
<path d="M1434 403 H1512" class="ll"/>
<text x="1440" y="412">从应用租户下的成员</text><text x="1440" y="421">信息获取</text>
<rect x="1524" y="337" width="64" height="86"/>
<text x="1556" y="349" class="b m">租户</text>
<text x="1526" y="366">租户ID</text><text x="1526" y="372">租户下级ID</text><text x="1526" y="382">上下级关系</text><text x="1526" y="393">租户来源应用</text>
<path d="M1524 397 H1588" class="ll"/>
<text x="1530" y="406">从应用租户</text><text x="1530" y="415">系</text>
<path d="M1473 337 C1480 290, 1540 280, 1560 190" class="ll" marker-end="url(#a)"/>
<path d="M1556 337 L1564 190" class="ll" marker-end="url(#a)"/>
<rect x="1420" y="443" width="120" height="12" class="n"/>
<text x="1430" y="452" class="gt">运营管理口径数据权限管控</text>
<rect x="1418" y="458" width="170" height="270"/>
<text x="1496" y="467" class="b m">数据维度</text>
<rect x="1430" y="477" width="80" height="75"/>
<text x="1470" y="488" class="b m">数据维度</text>
<rect x="1432" y="492" width="78" height="16"/><text x="1470" y="503" class="m">维度1</text>
<rect x="1432" y="513" width="78" height="16"/><text x="1470" y="524" class="m">维度2</text>
<rect x="1432" y="532" width="78" height="16"/><text x="1470" y="543" class="m">维度3</text>
<rect x="1535" y="477" width="53" height="75"/>
<text x="1562" y="488" class="b m">数据维度项</text>
<rect x="1545" y="492" width="43" height="16"/><text x="1549" y="503">维度1维</text>
<rect x="1545" y="513" width="43" height="16"/><text x="1549" y="524">维度2维</text>
<rect x="1545" y="532" width="43" height="16"/><text x="1549" y="543">维度3维</text>
<path d="M1510 500 H1545 M1510 521 H1545 M1510 540 H1545" class="ll" marker-end="url(#a)"/>
<rect x="1428" y="570" width="84" height="130"/>
<text x="1470" y="580" class="b m">维度映射关系</text>
<rect x="1430" y="583" width="80" height="40"/><text x="1470" y="593" class="m">关系1</text><text x="1431" y="605">应用A数据维度1</text><text x="1434" y="616">权限中台数据维度1</text>
<rect x="1430" y="625" width="80" height="35"/><text x="1470" y="632" class="m">关系2</text><text x="1431" y="644">应用A数据维度2</text><text x="1434" y="652">权限中台数据维度2</text>
<rect x="1430" y="662" width="80" height="37"/><text x="1470" y="671" class="m">关系3</text><text x="1431" y="682">应用A数据维度3</text><text x="1434" y="694">权限中台数据维度3</text>
<rect x="1520" y="570" width="68" height="130"/>
<text x="1560" y="580" class="b m">维度项映射关系</text>
<rect x="1522" y="583" width="66" height="40"/><text x="1530" y="593">维度项关系</text><text x="1526" y="605">应用A数据维</text><text x="1522" y="616">权限中台数据</text>
<rect x="1522" y="625" width="66" height="35"/><text x="1530" y="632">维度项关系</text><text x="1526" y="644">应用A数据维</text><text x="1522" y="652">权限中台数据</text>
<rect x="1522" y="662" width="66" height="37"/><text x="1530" y="671">维度项关系</text><text x="1526" y="682">应用A数据维</text><text x="1522" y="694">权限中台数据</text>
<path d="M1510 603 C1520 603, 1515 603, 1522 603" class="ll" marker-end="url(#a)"/>
<path d="M1510 605 C1525 610, 1510 640, 1522 643" class="ll" marker-end="url(#a)"/>
<path d="M1510 606 C1530 620, 1505 680, 1522 682" class="ll" marker-end="url(#a)"/>
<path d="M1418 703 H1588" class="ll"/>
<text x="1422" y="712">支持前权限中台按应用定义角色，预设角色，</text>
<text x="1422" y="721">定义查询服务</text>
</svg>
</body></html>
